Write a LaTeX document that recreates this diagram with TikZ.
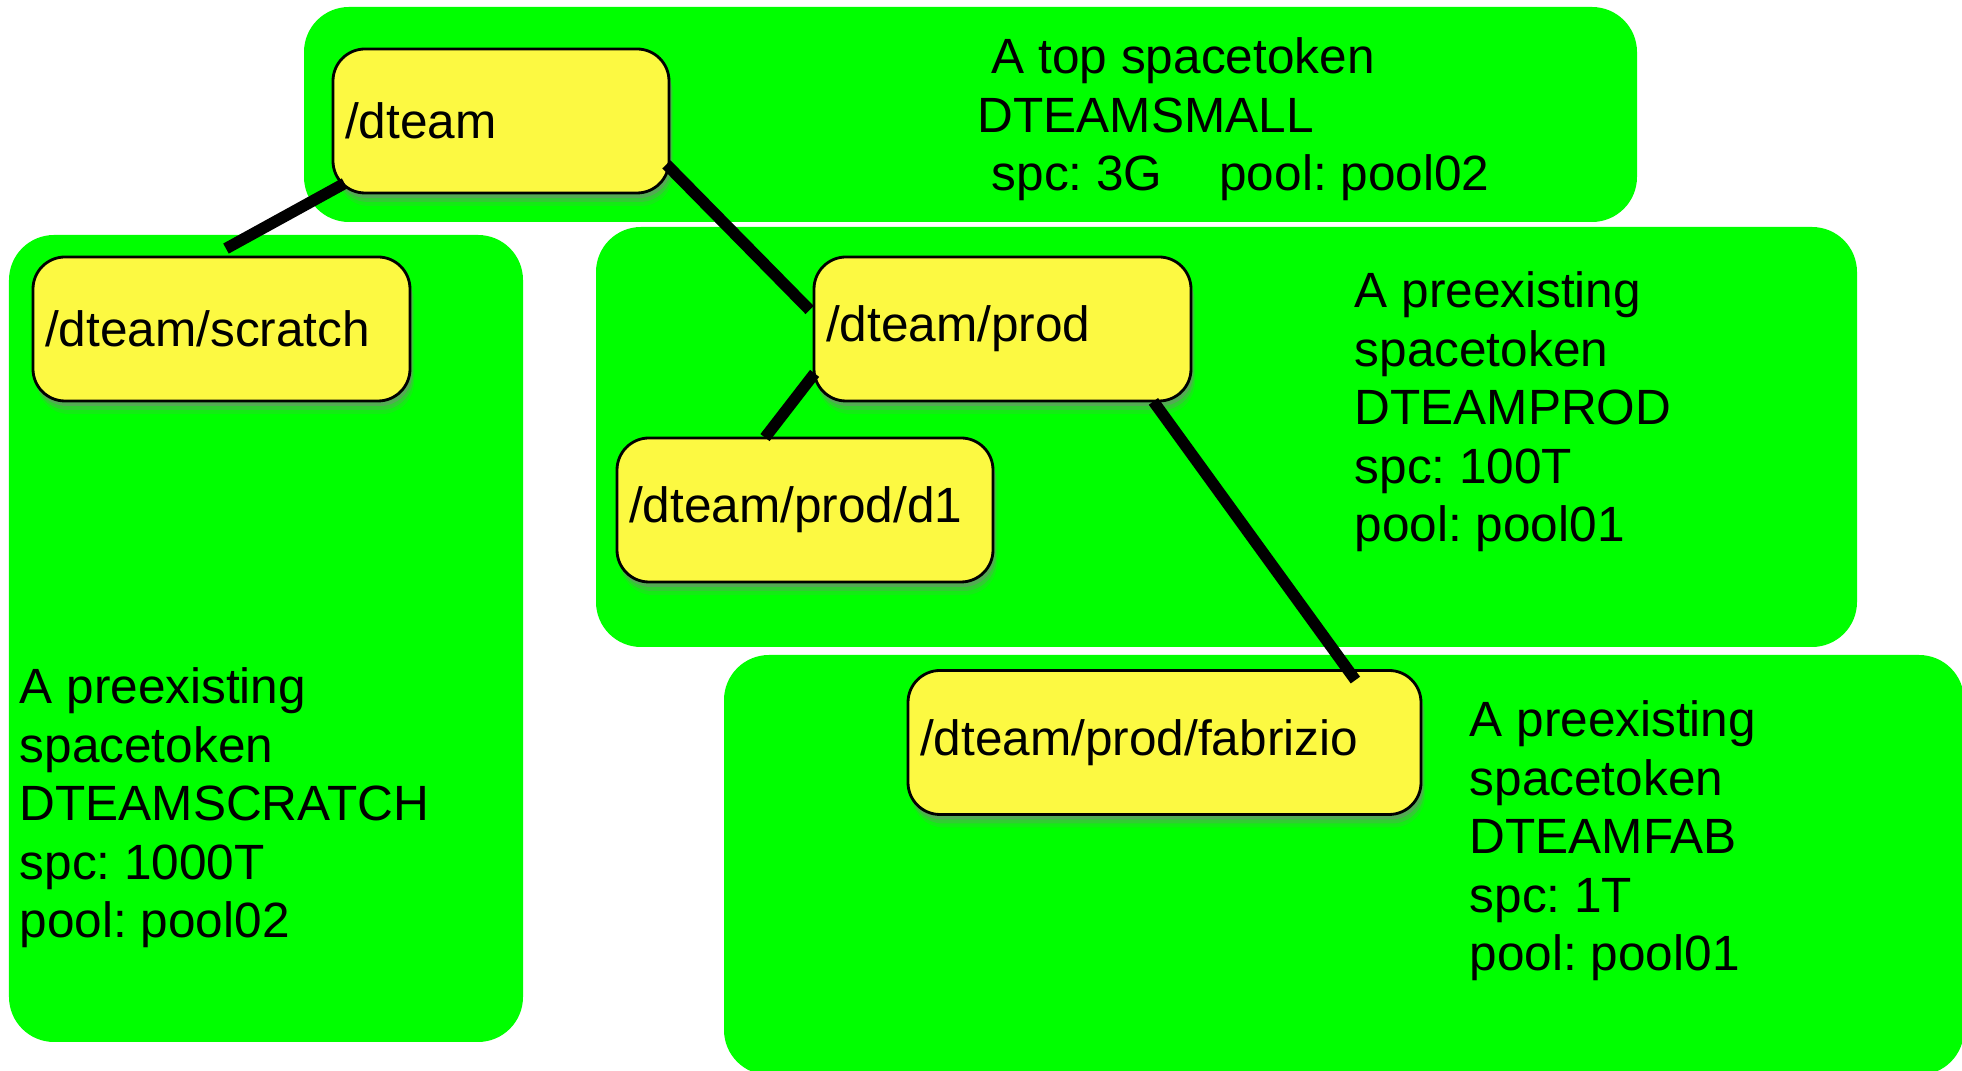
\documentclass[tikz,border=0pt]{standalone}
\usepackage{fontspec}
\setmainfont{Liberation Sans}
\usepackage{xcolor}
\usepackage{tikz}
\usetikzlibrary{calc,shadows}
\frenchspacing
\definecolor{panelgreen}{RGB}{0,255,0}
\definecolor{diryellow}{RGB}{252,249,66}
\tikzset{
  panel/.style={fill=panelgreen, rounded corners=0.45cm},
  dirbox/.style={
    draw=black, line width=0.8pt, fill=diryellow, rounded corners=0.32cm,
    minimum height=1.44cm, inner xsep=0.12cm, inner ysep=0pt, align=left,
    % soft shadow, built from a few stacked copies
    drop shadow={shadow xshift=0.04cm, shadow yshift=-0.13cm, opacity=0.15},
    drop shadow={shadow xshift=0.03cm, shadow yshift=-0.09cm, opacity=0.28},
    drop shadow={shadow xshift=0.02cm, shadow yshift=-0.05cm, opacity=0.45}
  },
  note/.style={anchor=north west, inner sep=0pt, align=left},
  link/.style={line width=0.115cm}
}

\begin{document}
\begin{tikzpicture}[font=\fontsize{14.1}{16.65}\selectfont]
    \useasboundingbox (0,0) rectangle (19.62,10.71);
    \clip (0,0) rectangle (19.62,10.71);

    % spacetoken panels
    \fill[panel] (3.04,10.64) rectangle (16.37,8.49);
    \fill[panel] (0.09,8.36) rectangle (5.23,0.29);
    \fill[panel] (5.96,8.44) rectangle (18.57,4.24);
    \fill[panel] (7.24,4.16) rectangle (19.64,-0.04);

    % directories
    \node[dirbox, text width=3.12cm] (dteam) at (5.01,9.50) {/dteam};
    \node[dirbox, text width=3.53cm] (scratch) at (2.215,7.42) {/dteam/scratch};
    \node[dirbox, text width=3.53cm] (prod) at (10.025,7.42) {/dteam/prod};
    \node[dirbox, text width=3.52cm] (d1) at (8.05,5.61) {/dteam/prod/d1};
    \node[dirbox, text width=4.89cm] (fab) at (11.645,3.285) {/dteam/prod/fabrizio};

    % spacetoken notes
    \node[note] (smallnote) at (9.77,10.39)
      {\strut\hspace*{0.14cm}A top spacetoken\\
       DTEAMSMALL\\
       \hspace*{0.14cm}spc: 3G\hspace{1.15em}pool: pool02};
    \node[note] (prodnote) at (13.54,8.05)
      {\strut A preexisting\\spacetoken\\DTEAMPROD\\spc: 100T\\pool: pool01};
    \node[note] (scratchnote) at (0.19,4.09)
      {\strut A preexisting\\spacetoken\\DTEAMSCRATCH\\spc: 1000T\\pool: pool02};
    \node[note] (fabnote) at (14.69,3.76)
      {\strut A preexisting\\spacetoken\\DTEAMFAB\\spc: 1T\\pool: pool01};

    % tree links
    \draw[link] ($(dteam.south west)+(0.13,0.11)$) -- ($(scratch.north)+(0.045,0.07)$);
    \draw[link] ($(dteam.south east)+(-0.04,0.30)$) -- ($(prod.west)+(-0.03,0.19)$);
    \draw[link] ($(prod.south west)+(0.02,0.29)$) -- ($(d1.north)+(-0.40,-0.01)$);
    \draw[link] ($(prod.south east)+(-0.39,0.01)$) -- ($(fab.north east)+(-0.67,-0.11)$);
\end{tikzpicture}
\end{document}
